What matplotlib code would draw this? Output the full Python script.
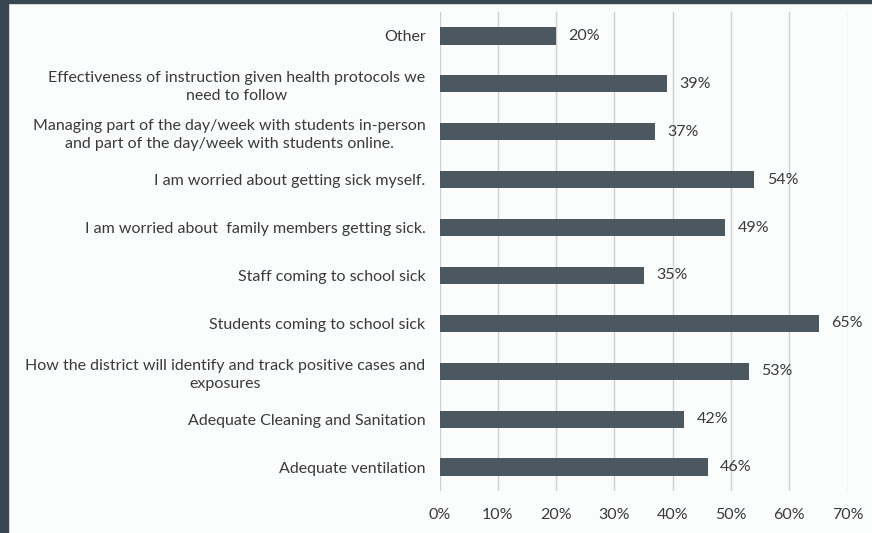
import matplotlib
matplotlib.use("Agg")
import matplotlib.pyplot as plt
from matplotlib.patches import Rectangle

# Survey concerns (top to bottom as displayed)
categories = [
    "Other",
    "Effectiveness of instruction given health protocols we\nneed to follow",
    "Managing part of the day/week with students in-person\nand part of the day/week with students online.",
    "I am worried about getting sick myself.",
    "I am worried about  family members getting sick.",
    "Staff coming to school sick",
    "Students coming to school sick",
    "How the district will identify and track positive cases and\nexposures",
    "Adequate Cleaning and Sanitation",
    "Adequate ventilation",
]
values = [20, 39, 37, 54, 49, 35, 65, 53, 42, 46]
x_ticks = [0, 10, 20, 30, 40, 50, 60, 70]
x_tick_labels = ["0%", "10%", "20%", "30%", "40%", "50%", "60%", "70%"]

plt.rcParams["font.family"] = ["Lato", "DejaVu Sans"]

fig = plt.figure(figsize=(8.72, 5.33), dpi=100)
fig.patch.set_facecolor("#fbfcfc")

# dark frame along the left and top edges
frame = "#37464f"
fig.add_artist(Rectangle((0, 0), 8 / 872, 1, transform=fig.transFigure,
                         color=frame, zorder=0))
fig.add_artist(Rectangle((0, 1 - 3 / 533), 1, 3 / 533, transform=fig.transFigure,
                         color=frame, zorder=0))

ax = fig.add_axes([439.5 / 872, 1 - 491 / 533, (847.7 - 439.5) / 872, (491 - 12) / 533])
ax.set_facecolor("#fbfcfc")

bar_color = "#4b5860"
text_color = "#3a3a3a"
fs = 11.5
pos = list(range(len(categories)))
ax.barh(pos, values, height=0.36, color=bar_color, zorder=3)

for p, v in zip(pos, values):
    ax.annotate(f"{v}%", xy=(v, p), xytext=(9, 0), textcoords="offset points",
                va="center", ha="left", fontsize=fs, color=text_color)

ax.set_xlim(0, 70)
ax.set_ylim(len(categories) - 0.5, -0.5)
ax.set_xticks(x_ticks)
ax.set_xticklabels(x_tick_labels, fontsize=fs, color=text_color)
ax.set_yticks(pos)
ax.set_yticklabels(categories, fontsize=fs, color=text_color, linespacing=1.35)
for lbl in ax.get_yticklabels():
    lbl.set_multialignment("center")

ax.tick_params(axis="both", length=0)
ax.tick_params(axis="y", pad=10)
ax.tick_params(axis="x", pad=12)
ax.grid(axis="x", color="#cfcfcf", linewidth=1, zorder=0)
for s in ax.spines.values():
    s.set_visible(False)

fig.savefig("out.png", dpi=100, facecolor=fig.get_facecolor())
